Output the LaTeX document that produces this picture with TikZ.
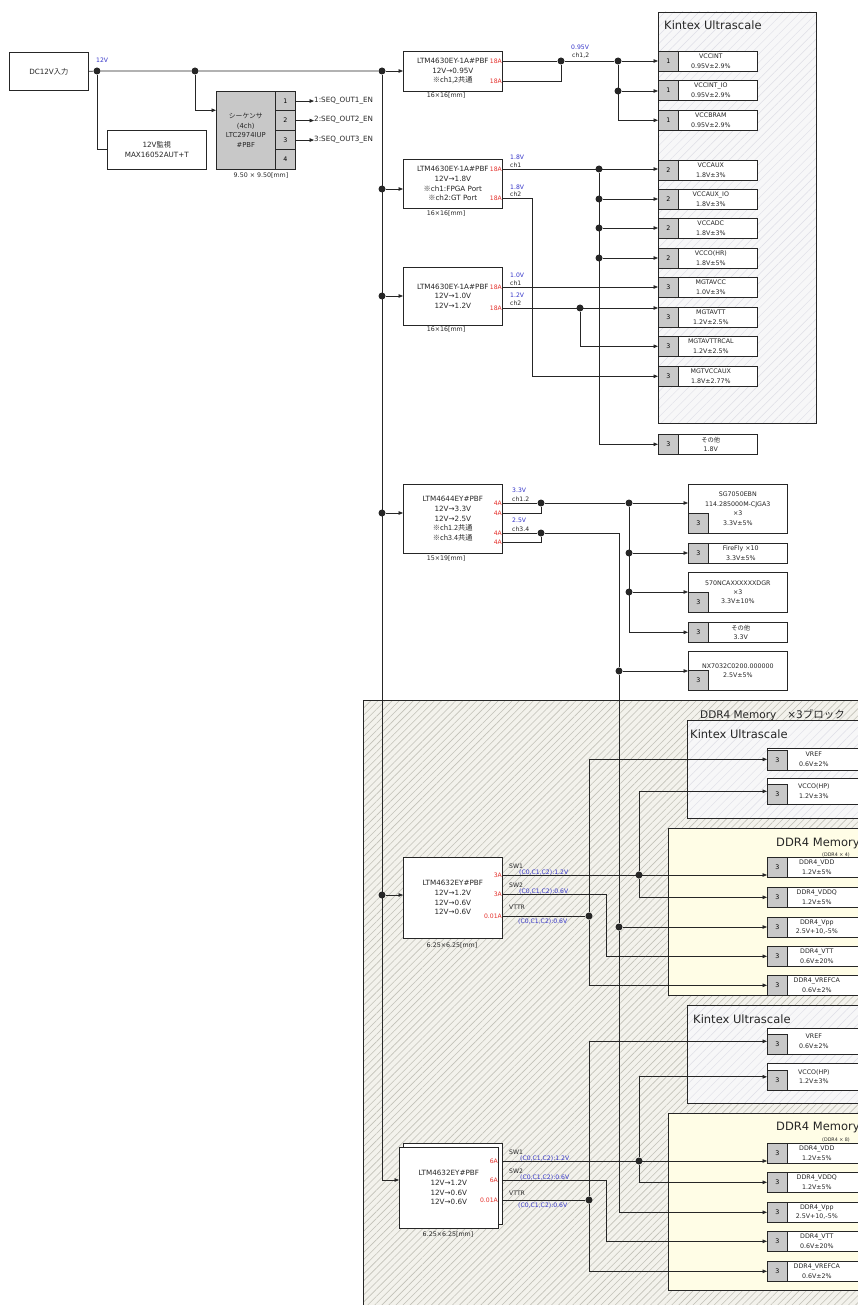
\documentclass[tikz,border=0pt]{standalone}
\usepackage{fontspec}
\setmainfont{DejaVu Sans}
\newfontfamily\jp{Noto Sans CJK JP}
\usetikzlibrary{arrows.meta,patterns.meta,calc}
\definecolor{ink}{HTML}{262626}
\definecolor{volt}{HTML}{3434C8}
\definecolor{ampred}{HTML}{E5322D}
\definecolor{portgrey}{HTML}{C8C8C8}
\definecolor{fpgabg}{HTML}{F7F7F8}
\definecolor{fpgahatch}{HTML}{DEDEE6}
\definecolor{ddrbg}{HTML}{F3F2EC}
\definecolor{ddrhatch}{HTML}{C2C1B8}
\definecolor{membg}{HTML}{FFFDE6}
\newcommand{\fmod}{\fontsize{7.2}{9.7}\selectfont}
\newcommand{\frail}{\fontsize{6.3}{9.4}\selectfont}
\newcommand{\flab}{\fontsize{6.1}{7}\selectfont}
\newcommand{\fcap}{\fontsize{6.3}{7}\selectfont}
\newcommand{\ftitle}{\fontsize{10.5}{12}\selectfont}
\newcommand{\fkin}{\fontsize{11.5}{13}\selectfont}
\newcommand{\rail}[5]{%
  \node[railbox,minimum width=#3] (#1) at (#2) {};
  \node[railport] (#1n) at (#1.north west) {#4};
  \node[railtxt] at ([xshift=3pt]#1.center) {#5};}
\newcommand{\raillow}[6]{%
  \node[railbox,minimum width=#3,minimum height=#4] (#1) at (#2) {};
  \node[railport,anchor=south west] (#1n) at (#1.south west) {#5};
  \node[railtxt] at (#1.center) {#6};}

\begin{document}
\begin{tikzpicture}[x=1pt,y=-1pt,
  wire/.style={draw=ink,line width=0.7pt},
  arr/.style={wire,-{Triangle[length=4.5pt,width=3.6pt]}},
  junction/.style={circle,fill=ink,inner sep=0,minimum size=7pt},
  modbox/.style={draw=ink,fill=white,line width=0.6pt,anchor=north west,inner sep=0,align=center,font=\fmod,text=ink},
  amp/.style={anchor=east,inner sep=0,font=\flab,text=ampred},
  vlab/.style={anchor=base west,inner sep=0,font=\flab,text=volt},
  chlab/.style={anchor=base west,inner sep=0,font=\flab,text=ink},
  sizecap/.style={inner sep=0,font=\fcap,text=ink},
  railbox/.style={draw=ink,fill=white,line width=0.6pt,anchor=north west,minimum height=20pt,inner sep=0},
  railport/.style={draw=ink,fill=portgrey,line width=0.6pt,anchor=north west,minimum width=20pt,minimum height=20pt,inner sep=0,font=\frail},
  railtxt/.style={align=center,inner sep=0,font=\frail,text=ink},
  sigtxt/.style={anchor=west,inner sep=0,font=\fmod,text=ink},
  blocktitle/.style={anchor=west,inner sep=0,font=\ftitle,text=ink},
  subtitle/.style={anchor=west,inner sep=0,font=\fontsize{4.8}{5}\selectfont,text=ink},
  fpgaarea/.style={fill=fpgabg,postaction={pattern={Lines[angle=45,distance=6pt,line width=0.45pt]},pattern color=fpgahatch}},
  ddrarea/.style={fill=ddrbg,postaction={pattern={Lines[angle=45,distance=5pt,line width=0.6pt]},pattern color=ddrhatch}},
  frame/.style={draw=ink,line width=0.6pt}]
\useasboundingbox (0,0) rectangle (858,1305);
\path[fpgaarea] (658,12) rectangle (816,423);
\draw[frame] (658,12) rectangle (816,423);
\path[ddrarea] (363,700) rectangle (875,1320);
\draw[frame] (363,700) rectangle (875,1320);
\foreach \y/\h in {720/818,1005/1103} {
  \path[fpgaarea] (687,\y) rectangle (875,\h);
  \draw[frame] (687,\y) rectangle (875,\h);
}
\foreach \y/\h in {828/995,1113/1290}
  \path[frame,fill=membg] (668,\y) rectangle (875,\h);
\node[blocktitle,font=\fkin] (kt0) at (664,25) {Kintex Ultrascale};
\node[blocktitle] (ddrt) at (700,715) {DDR4 Memory\hspace{11pt}×3{\jp ブロック}};
\node[blocktitle,font=\fkin] (kt1) at (690,734) {Kintex Ultrascale};
\node[blocktitle,font=\fontsize{11.5}{13}\selectfont] (mt1) at (776,843) {DDR4 Memory};
\node[subtitle] (st1) at (822,855) {(DDR4 × 4)};
\node[blocktitle,font=\fkin] (kt2) at (693,1019) {Kintex Ultrascale};
\node[blocktitle,font=\fontsize{11.5}{13}\selectfont] (mt2) at (776,1127) {DDR4 Memory};
\node[subtitle] (st2) at (822,1140) {(DDR4 × 8)};

\node[modbox,minimum width=79pt,minimum height=38pt,font=\fontsize{7.2}{9}\selectfont] (dcin) at (9,52) {DC12V{\jp 入力}};
\node[modbox,minimum width=99pt,minimum height=39pt] (mon) at (107,130) {12V{\jp 監視}\\MAX16052AUT+T};
\node[modbox,fill=portgrey,minimum width=59pt,minimum height=78pt,font=\fontsize{6.8}{9.7}\selectfont] (seq) at (216,91) {{\jp シーケンサ}\\(4ch)\\LTC2974IUP\\\#PBF};
\foreach \i/\y in {1/91,2/110.5,3/130,4/149.5}
  \node[railport,minimum height=19.5pt] (sp\i) at (275,\y) {\i};
\node[sizecap] at (261,176) {9.50 × 9.50[mm]};
\foreach \i/\y in {1/101,2/120,3/139.5} {
  \node[sigtxt] (so\i) at (314,\y) {\i:SEQ\_OUT\i\_EN};
  \draw[arr] (sp\i.east) -- (sp\i.east -| so\i.west);
}

\node[modbox,minimum width=99pt,minimum height=40pt] (ltma) at (403,51) {LTM4630EY-1A\#PBF\\12V→0.95V\\{\jp ※ch1,2共通}};
\node[amp] (qa1) at (502,61) {18A};
\node[amp] (qa2) at (502,81) {18A};
\node[sizecap] at (446,96) {16×16[mm]};
\node[modbox,minimum width=99pt,minimum height=49pt] (ltmb) at (403,159) {LTM4630EY-1A\#PBF\\12V→1.8V\\{\jp ※}ch1:FPGA Port\\{\jp ※}ch2:GT Port};
\node[amp] (qb1) at (502,169) {18A};
\node[amp] (qb2) at (502,198) {18A};
\node[sizecap] at (446,213.5) {16×16[mm]};
\node[modbox,minimum width=99pt,minimum height=58pt] (ltmc) at (403,267) {LTM4630EY-1A\#PBF\\12V→1.0V\\12V→1.2V};
\node[amp] (qc1) at (502,287) {18A};
\node[amp] (qc2) at (502,308) {18A};
\node[sizecap] at (446,330) {16×16[mm]};
\node[modbox,minimum width=99pt,minimum height=69pt] (ltmd) at (403,484) {LTM4644EY\#PBF\\12V→3.3V\\12V→2.5V\\{\jp ※ch1.2共通}\\{\jp ※ch3.4共通}};
\foreach \k/\y in {1/503,2/513,3/533,4/542}
  \node[amp] (qd\k) at (502,\y) {4A};
\node[sizecap] at (446,559) {15×19[mm]};
\node[modbox,minimum width=99pt,minimum height=81pt] (ltme) at (403,857) {LTM4632EY\#PBF\\12V→1.2V\\12V→0.6V\\12V→0.6V};
\node[amp] (qe1) at (502,875) {3A};
\node[amp] (qe2) at (502,894) {3A};
\node[amp] (qe3) at (502,916) {0.01A};
\node[sizecap] at (452,946) {6.25×6.25[mm]};
\node[modbox,minimum width=99pt,minimum height=81pt] (ltmfb) at (403,1143) {};
\node[modbox,minimum width=99pt,minimum height=81pt] (ltmf) at (399,1147) {LTM4632EY\#PBF\\12V→1.2V\\12V→0.6V\\12V→0.6V};
\node[amp] (qf1) at (498,1161) {6A};
\node[amp] (qf2) at (498,1180) {6A};
\node[amp] (qf3) at (498,1200) {0.01A};
\node[sizecap] at (448,1235) {6.25×6.25[mm]};

\rail{vccint}{658,51}{99pt}{1}{VCCINT\\0.95V±2.9\%}
\rail{vccintio}{658,80}{99pt}{1}{VCCINT\_IO\\0.95V±2.9\%}
\rail{vccbram}{658,110}{99pt}{1}{VCCBRAM\\0.95V±2.9\%}
\rail{vccaux}{658,160}{99pt}{2}{VCCAUX\\1.8V±3\%}
\rail{vccauxio}{658,189}{99pt}{2}{VCCAUX\_IO\\1.8V±3\%}
\rail{vccadc}{658,218}{99pt}{2}{VCCADC\\1.8V±3\%}
\rail{vccohr}{658,248}{99pt}{2}{VCCO(HR)\\1.8V±5\%}
\rail{mgtavcc}{658,277}{99pt}{3}{MGTAVCC\\1.0V±3\%}
\rail{mgtavtt}{658,307}{99pt}{3}{MGTAVTT\\1.2V±2.5\%}
\rail{mgtavttrcal}{658,336}{99pt}{3}{MGTAVTTRCAL\\1.2V±2.5\%}
\rail{mgtvccaux}{658,366}{99pt}{3}{MGTVCCAUX\\1.8V±2.77\%}
\rail{other18}{658,434}{99pt}{3}{{\jp その他}\\1.8V}
\raillow{sg}{688,484}{99pt}{49pt}{3}{SG7050EBN\\114.285000M-CJGA3\\×3\\3.3V±5\%}
\rail{firefly}{688,543}{99pt}{3}{FireFly ×10\\3.3V±5\%}
\raillow{nca}{688,572}{99pt}{40pt}{3}{570NCAXXXXXXDGR\\×3\\3.3V±10\%}
\rail{other33}{688,622}{99pt}{3}{{\jp その他}\\3.3V}
\raillow{nx}{688,651}{99pt}{39pt}{3}{NX7032C0200.000000\\2.5V±5\%}
\raillow{vrefa}{767,748}{93pt}{22pt}{3}{VREF\\0.6V±2\%}
\raillow{vccoa}{767,778}{93pt}{26pt}{3}{VCCO(HP)\\1.2V±3\%}
\rail{vdda}{767,857}{93pt}{3}{DDR4\_VDD\\1.2V±5\%}
\rail{vddqa}{767,887}{93pt}{3}{DDR4\_VDDQ\\1.2V±5\%}
\rail{vppa}{767,917}{93pt}{3}{DDR4\_Vpp\\2.5V+10,-5\%}
\rail{vtta}{767,946}{93pt}{3}{DDR4\_VTT\\0.6V±20\%}
\rail{vrefcaa}{767,975}{93pt}{3}{DDR4\_VREFCA\\0.6V±2\%}
\raillow{vrefb}{767,1028}{93pt}{26pt}{3}{VREF\\0.6V±2\%}
\raillow{vccob}{767,1063}{93pt}{27pt}{3}{VCCO(HP)\\1.2V±3\%}
\rail{vddb}{767,1143}{93pt}{3}{DDR4\_VDD\\1.2V±5\%}
\rail{vddqb}{767,1172}{93pt}{3}{DDR4\_VDDQ\\1.2V±5\%}
\rail{vppb}{767,1202}{93pt}{3}{DDR4\_Vpp\\2.5V+10,-5\%}
\rail{vttb}{767,1231}{93pt}{3}{DDR4\_VTT\\0.6V±20\%}
\rail{vrefcab}{767,1261}{93pt}{3}{DDR4\_VREFCA\\0.6V±2\%}

\node[vlab] at (96,63) {12V};
\node[vlab] at (571,49.5) {0.95V};
\node[chlab] at (572,58) {ch1,2};
\node[vlab] at (510,159.5) {1.8V};
\node[chlab] at (510,167.5) {ch1};
\node[vlab] at (510,189.5) {1.8V};
\node[chlab] at (510,196.5) {ch2};
\node[vlab] at (510,278) {1.0V};
\node[chlab] at (510,285.5) {ch1};
\node[vlab] at (510,297.5) {1.2V};
\node[chlab] at (510,305.5) {ch2};
\node[vlab] at (512,492.5) {3.3V};
\node[chlab] at (512,501) {ch1.2};
\node[vlab] at (512,522.3) {2.5V};
\node[chlab] at (512,531) {ch3.4};
\node[chlab] at (509,868) {SW1};
\node[vlab] at (519,874) {(C0,C1,C2):1.2V};
\node[chlab] at (509,887.5) {SW2};
\node[vlab] at (519,893) {(C0,C1,C2):0.6V};
\node[chlab] at (509,909) {VTTR};
\node[vlab] at (518,923) {(C0,C1,C2):0.6V};
\node[chlab] at (509,1154) {SW1};
\node[vlab] at (520,1160) {(C0,C1,C2):1.2V};
\node[chlab] at (509,1173) {SW2};
\node[vlab] at (520,1179) {(C0,C1,C2):0.6V};
\node[chlab] at (509,1195) {VTTR};
\node[vlab] at (518,1207) {(C0,C1,C2):0.6V};

\node[junction] (j12) at (97,71) {};
\node[junction] (jseq) at (195,71) {};
\foreach \k/\y in {1/71,2/189,3/296,4/513,5/895}
  \node[junction] (b\k) at (382,\y) {};
\coordinate (b6) at (382,1180);
\node[junction] (a12) at (561,61) {};
\node[junction] (k0) at (618,61) {};
\node[junction] (k1) at (618,91) {};
\foreach \k/\y in {0/169,1/199,2/228,3/258}
  \node[junction] (f\k) at (599,\y) {};
\node[junction] (g0) at (580,308) {};
\node[junction] (d12) at (541,503) {};
\node[junction] (d34) at (541,533) {};
\node[junction] (e0) at (629,503) {};
\node[junction] (e1) at (629,553) {};
\node[junction] (e2) at (629,592) {};
\node[junction] (nxj) at (619,671) {};
\node[junction] (dq1) at (639,875) {};
\node[junction] (dt1) at (589,916) {};
\node[junction] (dp1) at (619,927) {};
\node[junction] (dq2) at (639,1161) {};
\node[junction] (dt2) at (589,1200) {};

\draw[wire] (dcin.east) -- (j12) -- (jseq) -- (b1);
\draw[wire] (j12) |- (mon.west);
\draw[arr] (jseq) |- ([yshift=20pt]seq.west);
\draw[wire] (b1) -- (b6);
\foreach \k/\m in {1/ltma,2/ltmb,3/ltmc,4/ltmd,5/ltme}
  \draw[arr] (b\k) -- (\m.west |- b\k);
\draw[arr] (b6) -- (ltmf.west |- b6);

\draw[wire] (qa1.east) -- (a12);
\draw[wire] (qa2.east) -| (a12);
\draw[arr] (a12) -- (k0) -- (vccint.west |- k0);
\draw[arr] (k0) |- (vccbram.west);
\draw[arr] (k1) -- (vccintio.west |- k1);

\draw[arr] (qb1.east) -- (vccaux.west |- qb1);
\draw[arr] (f0) |- (other18.west);
\foreach \j/\r in {f1/vccauxio,f2/vccadc,f3/vccohr}
  \draw[arr] (\j) -- (\r.west |- \j);
\draw[arr] (qb2.east) -- ++(30,0) |- (mgtvccaux.west);

\draw[arr] (qc1.east) -- (mgtavcc.west |- qc1);
\draw[arr] (qc2.east) -- (mgtavtt.west |- qc2);
\draw[arr] (g0) |- (mgtavttrcal.west);

\draw[wire] (qd1.east) -- (d12);
\draw[wire] (qd2.east) -| (d12);
\draw[wire] (qd3.east) -- (d34);
\draw[wire] (qd4.east) -| (d34);
\draw[arr] (d12) -- (e0) -- (sg.west |- e0);
\draw[arr] (e0) |- (other33.west);
\draw[arr] (e1) -- (firefly.west |- e1);
\draw[arr] (e2) -- (nca.west |- e2);
\draw[wire] (d34) -| (nxj);
\draw[arr] (nxj) -- (nx.west |- nxj);
\draw[wire] (nxj) -- (dp1);
\draw[arr] (dp1) -- (vppa.west |- dp1);
\draw[arr] (dp1) |- (vppb.west);

\draw[arr] (qe1.east) -- (vdda.west |- qe1);
\draw[arr] (dq1) |- (vccoa.west);
\draw[arr] (dq1) |- (vddqa.west);
\draw[arr] (qe2.east) -- ++(104,0) |- (vtta.west);
\draw[wire] (qe3.east) -- (dt1);
\draw[arr] (dt1) |- (vrefa.west);
\draw[arr] (dt1) |- (vrefcaa.west);

\draw[arr] (ltmfb.east |- qf1) -- (vddb.west |- qf1);
\draw[arr] (dq2) |- (vccob.west);
\draw[arr] (dq2) |- (vddqb.west);
\draw[arr] (ltmfb.east |- qf2) -- ++(104,0) |- (vttb.west);
\draw[wire] (ltmfb.east |- qf3) -- (dt2);
\draw[arr] (dt2) |- (vrefb.west);
\draw[arr] (dt2) |- (vrefcab.west);
\end{tikzpicture}
\end{document}
